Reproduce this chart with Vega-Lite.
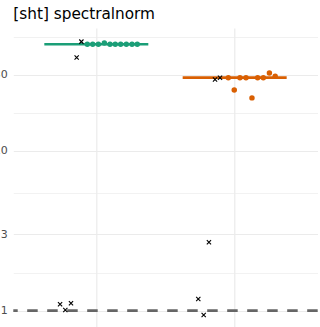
{
  "$schema": "https://vega.github.io/schema/vega-lite/v6.json",
  "autosize": "none",
  "width": 304.4,
  "height": 300,
  "padding": {"left": 13.3, "top": 28, "right": 0, "bottom": 0},
  "background": "white",
  "title": {"text": "[sht] spectralnorm", "anchor": "start", "frame": "group", "font": "DejaVu Sans", "fontSize": 15.3, "fontWeight": "normal", "color": "#000000", "baseline": "alphabetic", "offset": 8.5, "dy": 15},
  "config": {
    "view": {"stroke": null},
    "axis": {"gridColor": "#EBEBEB", "ticks": false, "domain": false, "title": null, "labelFont": "DejaVu Sans", "labelFontSize": 11, "labelColor": "#4D4D4D"}
  },
  "datasets": {
    "reference": [
      {"ratio": 1}
    ],
    "medians": [
      {"group": "A", "position": 1, "median": 46.6},
      {"group": "B", "position": 2, "median": 28.8}
    ],
    "runs": [
      {"group": "A", "position": 0.935, "time": 46.6},
      {"group": "A", "position": 0.974, "time": 46.6},
      {"group": "A", "position": 1.015, "time": 46.6},
      {"group": "A", "position": 1.058, "time": 47.5},
      {"group": "A", "position": 1.099, "time": 46.6},
      {"group": "A", "position": 1.137, "time": 46.6},
      {"group": "A", "position": 1.176, "time": 46.6},
      {"group": "A", "position": 1.217, "time": 46.6},
      {"group": "A", "position": 1.258, "time": 46.6},
      {"group": "A", "position": 1.296, "time": 46.6},
      {"group": "B", "position": 1.954, "time": 28.7},
      {"group": "B", "position": 1.997, "time": 24.1},
      {"group": "B", "position": 2.038, "time": 28.7},
      {"group": "B", "position": 2.082, "time": 28.7},
      {"group": "B", "position": 2.125, "time": 21.5},
      {"group": "B", "position": 2.166, "time": 28.7},
      {"group": "B", "position": 2.207, "time": 28.7},
      {"group": "B", "position": 2.251, "time": 30.8},
      {"group": "B", "position": 2.293, "time": 29.4}
    ],
    "others": [
      {"group": "A", "position": 0.892, "time": 48.4},
      {"group": "A", "position": 0.858, "time": 38.5},
      {"group": "A", "position": 0.738, "time": 1.095},
      {"group": "A", "position": 0.776, "time": 1.009},
      {"group": "A", "position": 0.817, "time": 1.111},
      {"group": "B", "position": 1.858, "time": 28.05},
      {"group": "B", "position": 1.894, "time": 28.7},
      {"group": "B", "position": 1.814, "time": 2.68},
      {"group": "B", "position": 1.737, "time": 1.182},
      {"group": "B", "position": 1.776, "time": 0.938}
    ]
  },
  "encoding": {
    "x": {"field": "position", "type": "quantitative",
      "scale": {"domain": [0.4, 2.6], "nice": false, "zero": false},
      "axis": {"values": [1, 2], "labels": false, "grid": true, "gridWidth": 1.2}},
    "color": {"field": "group", "type": "nominal",
      "scale": {"domain": ["A", "B"], "range": ["#1B9E77", "#D95F02"]}, "legend": null}
  },
  "resolve": {"scale": {"y": "independent"}, "axis": {"y": "independent"}},
  "layer": [
    {
      "data": {"name": "medians"},
      "mark": {"type": "tick", "orient": "horizontal", "size": 104, "thickness": 2.7, "opacity": 1},
      "encoding": {
        "y": {"field": "median", "type": "quantitative",
          "scale": {"type": "log", "domain": [0.778, 58.9], "nice": false},
          "axis": {"orient": "left", "values": [1.732, 5.477, 17.32, 51.96], "labels": false, "grid": true, "gridWidth": 0.7}}
      }
    },
    {
      "layer": [
        {
          "data": {"name": "reference"},
          "mark": {"type": "rule", "color": "#666666", "strokeWidth": 2.6, "strokeDash": [10.5, 9.5]},
          "encoding": {
            "y": {"field": "ratio", "type": "quantitative",
              "scale": {"type": "log", "domain": [0.778, 58.9], "nice": false},
              "axis": {"orient": "left", "values": [1, 3, 10, 30], "grid": true, "gridWidth": 1.2, "labelPadding": 6, "labelExpr": "format(datum.value, 'd')"}},
            "x": null,
            "color": null
          }
        },
        {
          "data": {"name": "runs"},
          "mark": {"type": "circle", "size": 30, "opacity": 1},
          "encoding": {
            "y": {"field": "time", "type": "quantitative"}
          }
        },
        {
          "data": {"name": "others"},
          "mark": {"type": "point", "shape": "M-1,-1L1,1M-1,1L1,-1", "filled": false, "size": 18, "strokeWidth": 1.1, "opacity": 1},
          "encoding": {
            "y": {"field": "time", "type": "quantitative"},
            "color": {"value": "#000000"}
          }
        }
      ]
    }
  ]
}
